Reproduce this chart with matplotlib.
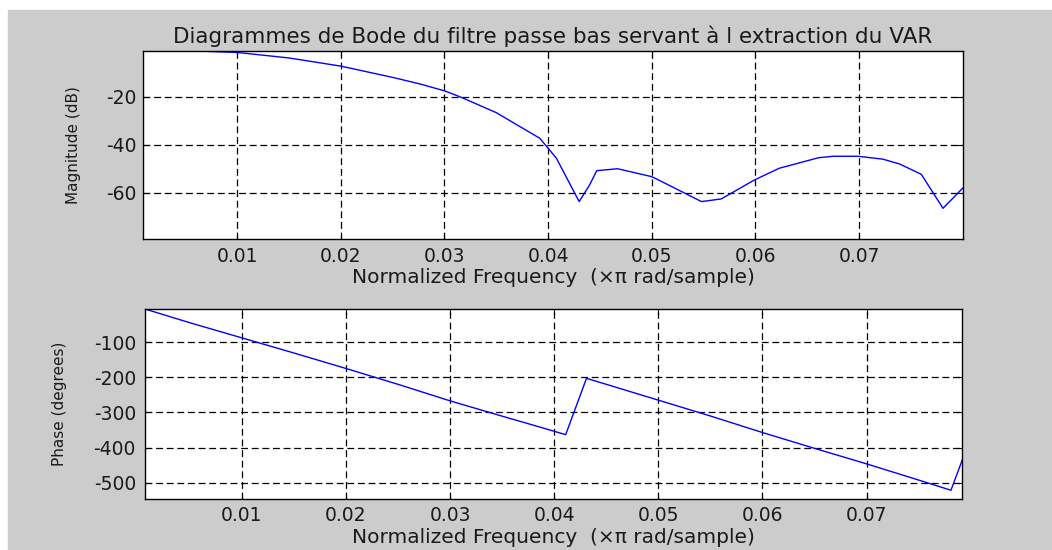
import numpy as np
import matplotlib
matplotlib.use('Agg')
import matplotlib.pyplot as plt
from matplotlib.patches import Rectangle

# magnitude response (normalized frequency x pi rad/sample, dB)
freq_mag = [0.00095, 0.004, 0.0062, 0.01, 0.015, 0.02, 0.025, 0.0276,
            0.03, 0.0315, 0.035, 0.0392, 0.0398, 0.0408, 0.043, 0.044, 0.0447,
            0.0467, 0.05, 0.0508, 0.0548, 0.0567, 0.0599, 0.0623, 0.0661, 0.0675,
            0.0699, 0.0723, 0.0739, 0.076, 0.0781, 0.08]
mag_db = [0.0, -0.4, -0.9, -1.5, -3.8, -7.2, -11.9, -14.6,
          -17.5, -20.0, -26.6, -37.3, -40.4, -45.6, -63.7, -56.8, -50.8,
          -50.0, -53.3, -55.0, -63.7, -62.6, -54.7, -49.8, -45.4, -44.8,
          -44.8, -46.0, -48.0, -52.3, -66.5, -58.1]

# phase response (degrees)
freq_ph = [0.0007, 0.005, 0.01, 0.015, 0.02, 0.025, 0.03, 0.035, 0.0381, 0.0411,
           0.0431, 0.045, 0.05, 0.055, 0.06, 0.065, 0.07, 0.075, 0.0781, 0.0792]
phase_deg = [-6, -45, -88, -131, -175, -220, -267, -310.5, -337, -363,
             -203, -220, -265, -310, -357, -402, -446, -492, -521, -434]

xticks = [0.01, 0.02, 0.03, 0.04, 0.05, 0.06, 0.07]
mag_ticks = [-20, -40, -60]
phase_ticks = [-100, -200, -300, -400, -500]

plt.rcParams['font.family'] = ['DejaVu Sans']
plt.rcParams['font.size'] = 13.5
plt.rcParams['axes.unicode_minus'] = False

W, H = 1052, 550
fig = plt.figure(figsize=(W / 100, H / 100), dpi=100, facecolor='white')
# grey figure panel behind the axes
panel = Rectangle((8 / W, 0), 1 - 8 / W, 1 - 10 / H,
                  transform=fig.transFigure, color='#cccccc', zorder=-10)
fig.add_artist(panel)

ax1 = fig.add_axes([143.3 / W, 1 - 239 / H, 819.4 / W, 188 / H])
ax2 = fig.add_axes([145 / W, 1 - 498.7 / H, 817.4 / W, 189.7 / H])

grid_kw = dict(color='black', linestyle=(0, (5.5, 3)), linewidth=0.9)
text_col = '#1a1a1a'

for ax in (ax1, ax2):
    ax.set_facecolor('white')
    ax.set_xticks(xticks)
    ax.set_xticklabels(['%.2f' % t for t in xticks])
    ax.grid(True, **grid_kw)
    ax.tick_params(direction='in', length=4, top=True, right=True,
                   colors='black', labelcolor=text_col)
    ax.tick_params(axis='x', pad=5.5)
    for s in ax.spines.values():
        s.set_color('black')
        s.set_linewidth(1.0)
    ax.set_xlabel('Normalized Frequency  (\u00d7\u03c0 rad/sample)', labelpad=2,
                  color=text_col, fontsize=14.5)

ax1.plot(freq_mag, mag_db, color='blue', linewidth=1.0)
ax1.set_xlim(0.00095, 0.0800)
ax1.set_ylim(-79.3, -0.9)
ax1.set_yticks(mag_ticks)
ax1.tick_params(axis='y', pad=5)
ax1.set_ylabel('Magnitude (dB)', color=text_col, fontsize=11, va='center')
ax1.yaxis.set_label_coords((73 - 143.3) / 819.4, 0.5)
ax1.set_title('Diagrammes de Bode du filtre passe bas servant \u00e0 l extraction du VAR',
              color=text_col, fontsize=15.5, pad=6)

ax2.plot(freq_ph, phase_deg, color='blue', linewidth=1.0)
ax2.set_xlim(0.0007, 0.0792)
ax2.set_ylim(-545, -6)
ax2.set_yticks(phase_ticks)
ax2.tick_params(axis='y', pad=6.5)
ax2.set_ylabel('Phase (degrees)', color=text_col, fontsize=11, va='center')
ax2.yaxis.set_label_coords((59.5 - 145) / 817.4, 0.5)

fig.savefig('out.png', dpi=100, facecolor='white')
